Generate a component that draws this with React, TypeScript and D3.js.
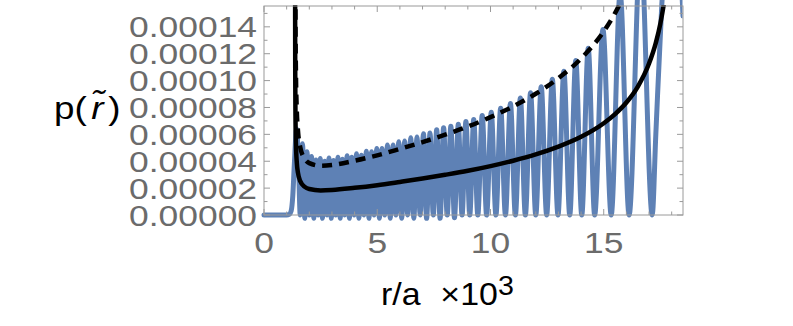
import React from "react";
import * as d3 from "d3";

// ---- data (r in units of a x 10^3, p in units of 1e-5) ----
const X_MAJOR = [0, 5, 10, 15];
const X_MINOR = [1, 2, 3, 4, 6, 7, 8, 9, 11, 12, 13, 14, 16, 17, 18];
const Y_MAJOR = [0, 2, 4, 6, 8, 10, 12, 14];
const Y_MINOR = [1, 3, 5, 7, 9, 11, 13, 15];
const Y_LABELS = ["0.00000", "0.00002", "0.00004", "0.00006", "0.00008", "0.00010", "0.00012", "0.00014"];

// classical probability (solid)
const CL_R = [1.371, 1.375, 1.38, 1.39, 1.41, 1.45, 1.5, 1.6, 1.8, 2.0, 2.5, 3, 4, 5, 6, 7, 8, 9, 10, 11, 12, 13, 14, 15, 15.5, 16, 16.5, 17, 17.3, 17.5, 17.7, 17.8];
const CL_P = [32, 14.6, 10.37, 7.39, 5.3, 3.86, 3.14, 2.52, 2.09, 1.93, 1.83, 1.86, 2.02, 2.22, 2.46, 2.71, 2.99, 3.29, 3.64, 4.04, 4.51, 5.09, 5.82, 6.83, 7.51, 8.37, 9.54, 11.27, 12.81, 14.24, 16.23, 17.57];

// envelope (dashed)
const ENV_R = [1.375, 1.38, 1.39, 1.41, 1.45, 1.5, 1.6, 1.8, 2.0, 2.5, 3, 4, 5, 6, 7, 8, 9, 10, 11, 12, 13, 14, 15, 15.5, 16];
const ENV_P = [29.2, 20.7, 14.8, 10.6, 7.72, 6.28, 5.04, 4.18, 3.86, 3.66, 3.72, 4.04, 4.44, 4.92, 5.42, 5.98, 6.58, 7.28, 8.08, 9.02, 10.18, 11.64, 13.66, 15.02, 16.74];

// quantum probability density (blue): extrema
const Q_R = [0, 1.0, 1.12, 1.2, 1.27, 1.34, 1.44, 1.53,
  1.60, 1.70, 1.80, 1.90, 2.00, 2.10, 2.20, 2.295, 2.39, 2.485, 2.58, 2.68, 2.775, 2.87, 2.97, 3.07, 3.165, 3.265, 3.365, 3.465, 3.565, 3.67, 3.77, 3.875, 3.98, 4.085, 4.19, 4.30, 4.41, 4.52, 4.635, 4.75, 4.86, 4.98, 5.095, 5.21, 5.33, 5.45, 5.575, 5.70, 5.825, 5.95, 6.08, 6.21, 6.345, 6.48, 6.615, 6.755, 6.895, 7.04, 7.18, 7.33, 7.475, 7.625, 7.775, 7.93, 8.09, 8.25, 8.41, 8.58, 8.745, 8.915, 9.085, 9.26, 9.44, 9.635, 9.83, 10.035, 10.24, 10.45, 10.66, 10.88, 11.10, 11.32, 11.54, 11.77, 12.00, 12.24, 12.48, 12.73, 12.98, 13.24, 13.50, 13.765, 14.03, 14.315, 14.60, 14.965, 15.33, 15.725, 16.12, 16.63, 17.14,
  17.3, 17.56, 17.95, 18.3, 18.5];
const Q_P = [0, 0, 0.05, 0.3, 1.4, 3.8, 6.4, 3.4,
  0, 5.3, -0.25, 4.7, 0, 4.35, -0.25, 4.1, 0, 4.2, -0.25, 4.0, 0, 4.25, -0.25, 4.05, 0, 4.3, -0.25, 4.15, 0, 4.4, -0.25, 4.3, 0, 4.55, -0.25, 4.45, 0, 4.75, -0.25, 4.7, 0, 4.95, -0.25, 4.95, 0, 5.2, -0.25, 5.2, 0, 5.45, -0.25, 5.5, 0, 5.75, -0.25, 5.8, 0, 6.05, -0.25, 6.1, 0, 6.35, -0.25, 6.5, 0, 6.6, -0.2, 6.75, 0, 6.95, 0, 7.1, 0, 7.4, 0, 7.65, 0, 7.95, 0, 8.3, 0, 8.7, 0, 9.1, 0, 9.55, 0, 10.1, 0, 10.7, 0, 11.5, 0, 12.4, 0, 13.8, 0, 16.5, 0, 20, 0,
  6, 15.5, 24, 21, 14.8];

const W = 793, H = 326;
const L = 264, R = 683, T = 6, B = 215;
const FONT = "'Liberation Sans', Arial, Helvetica, sans-serif";
const FRAME = "#9a9a9a";
const LABEL = "#6b6b6b";
const BLUE = "#5E81B5";
const SX = 1.2; // horizontal stretch of text

export default function App() {
  const x = d3.scaleLinear().domain([0, 18.5]).range([L, R]);
  const y = d3.scaleLinear().domain([0, 15.55]).range([B, T]);

  const line = d3.line<[number, number]>()
    .x((d) => x(d[0]))
    .y((d) => y(d[1]))
    .curve(d3.curveMonotoneX);

  const qPath = line(Q_R.map((r, i) => [r, Q_P[i]]))!;
  const clPath = line(CL_R.map((r, i) => [r, CL_P[i]]))!;
  const envPath = line(ENV_R.map((r, i) => [r, ENV_P[i]]))!;

  return (
    <svg width={W} height={H} style={{ position: "absolute", left: 0, top: 0, background: "#fff" }}>
      <defs>
        <clipPath id="clipBlue">
          <rect x={L - 3} y={0} width={R - L + 2.5} height={B + 9} />
        </clipPath>
        <clipPath id="clipBlack">
          <rect x={L} y={T - 1} width={R - L} height={B - T + 4} />
        </clipPath>
      </defs>

      <g clipPath="url(#clipBlue)">
        <path d={qPath} fill="none" stroke={BLUE} strokeWidth={5} strokeLinejoin="round" strokeLinecap="round" />
      </g>
      <g clipPath="url(#clipBlack)">
        <path d={clPath} fill="none" stroke="#000" strokeWidth={4.5} />
        <path d={envPath} fill="none" stroke="#000" strokeWidth={4.5} strokeDasharray="10 7" />
      </g>

      {/* frame */}
      <rect x={L} y={T} width={R - L} height={B - T} fill="none" stroke={FRAME} strokeWidth={1} />
      {X_MAJOR.map((v) => (
        <g key={"xM" + v} stroke={FRAME}>
          <line x1={x(v)} x2={x(v)} y1={B} y2={B - 6} />
          <line x1={x(v)} x2={x(v)} y1={T} y2={T + 6} />
        </g>
      ))}
      {X_MINOR.map((v) => (
        <g key={"xm" + v} stroke={FRAME}>
          <line x1={x(v)} x2={x(v)} y1={B} y2={B - 3.5} />
          <line x1={x(v)} x2={x(v)} y1={T} y2={T + 3.5} />
        </g>
      ))}
      {Y_MAJOR.map((v) => (
        <g key={"yM" + v} stroke={FRAME}>
          <line x1={L} x2={L + 6} y1={y(v)} y2={y(v)} />
          <line x1={R} x2={R - 6} y1={y(v)} y2={y(v)} />
        </g>
      ))}
      {Y_MINOR.map((v) => (
        <g key={"ym" + v} stroke={FRAME}>
          <line x1={L} x2={L + 3.5} y1={y(v)} y2={y(v)} />
          <line x1={R} x2={R - 3.5} y1={y(v)} y2={y(v)} />
        </g>
      ))}

      {/* tick labels */}
      {Y_MAJOR.map((v, i) => (
        <text key={"yl" + v} transform={`translate(${L - 7},${y(v) + 10.5}) scale(${SX},1)`}
          textAnchor="end" fontFamily={FONT} fontSize={29.5} fill={LABEL}>{Y_LABELS[i]}</text>
      ))}
      {X_MAJOR.map((v) => (
        <text key={"xl" + v} transform={`translate(${x(v)},${253}) scale(${SX},1)`}
          textAnchor="middle" fontFamily={FONT} fontSize={29.5} fill={LABEL}>{v}</text>
      ))}

      {/* axis titles */}
      <text transform={`translate(54,119) scale(1.15,1)`} fontFamily={FONT} fontSize={32} fill="#000">
        <tspan>p(</tspan>
        <tspan dx={4} fontStyle="italic">{"r\u0303"}</tspan>
        <tspan dx={4}>)</tspan>
      </text>
      <g transform="translate(381,305) scale(1.06,1)">
        <text fontFamily={FONT} fontSize={32} fill="#000">
          <tspan x={0}>r/a</tspan>
          <tspan x={56}>{"\u00d710"}</tspan>
          <tspan dy={-10} fontSize={27}>3</tspan>
        </text>
      </g>
    </svg>
  );
}
